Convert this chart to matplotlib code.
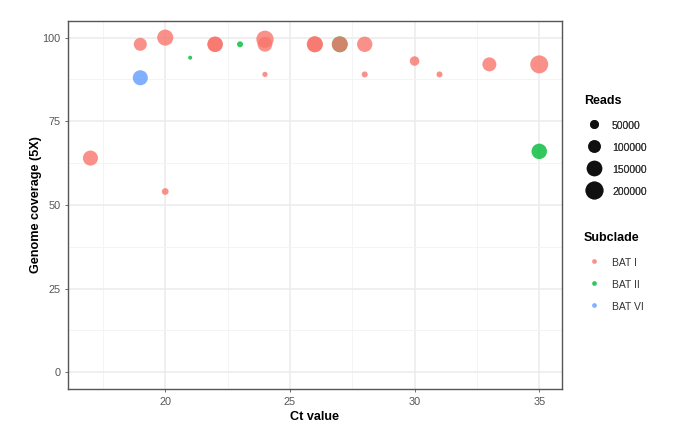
import matplotlib.pyplot as plt
from matplotlib.lines import Line2D
import numpy as np

# ================= DATA =================
ct_value = [17, 19, 19, 20, 20, 21, 22, 22, 23, 24, 24, 24, 26, 26, 27, 27, 28, 28, 30, 31, 33, 35, 35]
coverage = [64, 98, 88, 100, 54, 94, 98, 98, 98, 99.5, 98, 89, 98, 98, 98, 98, 98, 89, 93, 89, 92, 92, 66]
reads = [140000, 105000, 140000, 160000, 28000, 10000, 150000, 140000, 22000, 185000, 133000, 17000,
         160000, 150000, 155000, 155000, 145000, 22000, 56000, 22000, 121000, 200000, 148000]
subclade = ["BAT I", "BAT I", "BAT VI", "BAT I", "BAT I", "BAT II", "BAT I", "BAT I", "BAT II",
            "BAT I", "BAT I", "BAT I", "BAT I", "BAT I", "BAT II", "BAT I", "BAT I", "BAT I",
            "BAT I", "BAT I", "BAT I", "BAT I", "BAT II"]

subclade_levels = ["BAT I", "BAT II", "BAT VI"]
reads_breaks = [50000, 100000, 150000, 200000]
# =================================================================

COLORS = {"BAT I": "#F8766D", "BAT II": "#00BA38", "BAT VI": "#619CFF"}
ALPHA = 0.8
SIZE_SCALE = 0.00084  # points^2 per read

plt.rcParams['font.family'] = ['Liberation Sans', 'DejaVu Sans']


def make_legend(fig, handles, labels, title, y_title, y_top):
    # title drawn separately so the gap to the keys can be set freely
    fig.text(0.8588, y_title, title, fontsize=9, fontweight='bold', ha='left', va='center')
    leg = fig.legend(handles, labels, loc='upper left', bbox_to_anchor=(0.85, y_top),
                     frameon=False, fontsize=7.5, borderpad=0, handlelength=2.1,
                     handleheight=1.5, labelspacing=0.89, handletextpad=0.67)
    for t in leg.get_texts():
        t.set_color('#333333')
    return leg


def main():
    fig = plt.figure(figsize=(6.8, 4.26), dpi=100)
    ax = fig.add_axes([0.1, 0.087, 0.726, 0.864])

    cols = [COLORS[s] for s in subclade]
    sizes = np.array(reads) * SIZE_SCALE
    ax.scatter(ct_value, coverage, s=sizes, c=cols, alpha=ALPHA, linewidths=0, zorder=3)

    ax.set_xlim(16.1, 35.9)
    ax.set_ylim(-5, 105)
    ax.set_xticks([20, 25, 30, 35])
    ax.set_yticks([0, 25, 50, 75, 100])
    ax.set_xticks([17.5, 22.5, 27.5, 32.5], minor=True)
    ax.set_yticks([12.5, 37.5, 62.5, 87.5], minor=True)
    ax.grid(True, which='major', color='#EBEBEB', linewidth=1.1, zorder=0)
    ax.grid(True, which='minor', color='#F3F3F3', linewidth=0.6, zorder=0)
    ax.set_axisbelow(True)
    ax.tick_params(which='major', length=2.5, width=0.6, color='#555555',
                   labelsize=7.8, labelcolor='#555555', pad=3)
    ax.tick_params(which='minor', length=0)
    for sp in ax.spines.values():
        sp.set_color('#555555')
        sp.set_linewidth(1.0)

    ax.set_xlabel('Ct value', fontsize=9.1, fontweight='bold', labelpad=3)
    ax.set_ylabel('Genome coverage (5X)', fontsize=9.1, fontweight='bold', labelpad=0.5)

    # Reads legend
    size_handles = [Line2D([], [], linestyle='none', marker='o', markersize=np.sqrt(b * SIZE_SCALE),
                           markerfacecolor='black', markeredgewidth=0, alpha=0.75)
                    for b in reads_breaks]
    leg1 = make_legend(fig, size_handles, [str(b) for b in reads_breaks], 'Reads',
                       1 - 101 / 426, 1 - 114 / 426)

    # Subclade legend
    col_handles = [Line2D([], [], linestyle='none', marker='o', markersize=3.4,
                          markerfacecolor=COLORS[s], markeredgewidth=0, alpha=ALPHA)
                   for s in subclade_levels]
    make_legend(fig, col_handles, subclade_levels, 'Subclade', 1 - 238 / 426, 1 - 251 / 426)
    fig.add_artist(leg1)

    fig.savefig("out.png", dpi=100)
    plt.close(fig)


if __name__ == "__main__":
    main()
